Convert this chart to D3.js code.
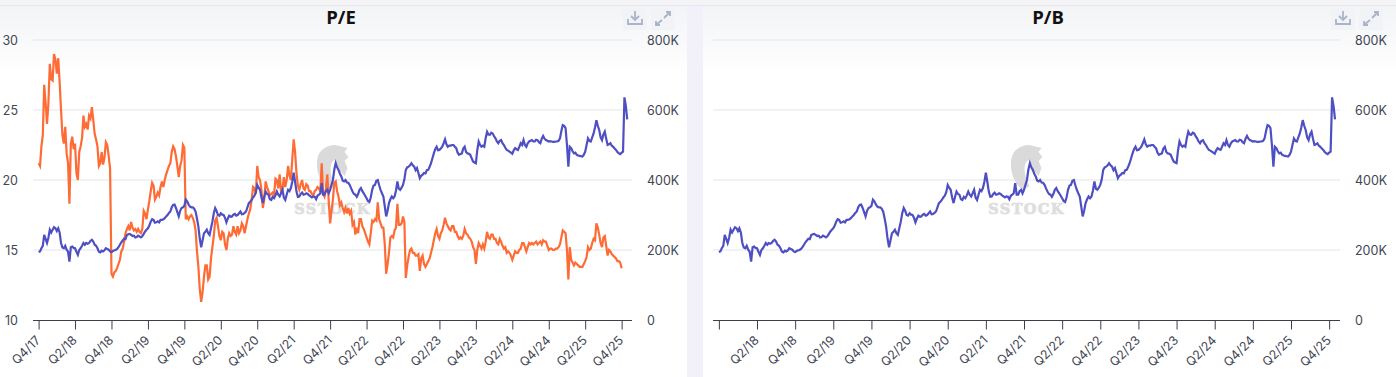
<!DOCTYPE html>
<html>
<head>
<meta charset="utf-8">
<script src="https://cdn.jsdelivr.net/npm/d3@7"></script>
<style>
  html, body { margin: 0; padding: 0; background: #fff; overflow: hidden; }
  svg { display: block; }
  text { font-family: Inter, "Noto Sans", sans-serif; }
</style>
</head>
<body>
<svg id="chart" width="1396" height="377"></svg>
<script>
// one sample about every week, tick labels every 26 samples (half a year), one row per half year
const tickLabels = ["Q4/17","Q2/18","Q4/18","Q2/19","Q4/19","Q2/20","Q4/20","Q2/21","Q4/21","Q2/22","Q4/22","Q2/23","Q4/23","Q2/24","Q4/24","Q2/25","Q4/25"];
const samplesPerTick = 26;

const peTicks = [10, 15, 20, 25, 30];
const indexTicks = [0, 200, 400, 600, 800];

const peValues = [
  21.2,21,22.4,23.2,26.8,25.5,24,25.5,28.3,27.2,27.1,29,28.6,27.6,28.7,27,25,23.2,22.6,23.8,21.9,21.2,18.3,22.6,23.1,22.2,
  22.6,20.5,20,22,22.4,23,24.6,23.8,24,23.6,24.6,24.4,25.2,24.3,23.3,22.9,22.4,21,21.2,22,21.1,21.6,22.7,22.5,21.7,20.8,
  13.3,13.1,13.4,13.5,13.7,14,14.3,14.9,15.1,15.6,16.2,16.5,16.7,16.4,17,16.6,16.4,16.5,16.3,16.5,16.3,16.2,16.5,17.8,17.6,17.2,
  17.9,18.5,19.2,19.8,19.6,18.6,18.8,19.1,18.9,19.5,19.9,19.5,20,20.4,20.7,21,21.2,22,22.4,22.2,21.7,21,20.2,21,21.4,22.5,
  22.3,17.2,17.4,17.2,17.4,17.5,17.3,17,16.4,14.9,13.8,12.2,11.3,12,13.1,13.9,13.9,12.9,13.1,14.4,15.2,16,17.1,17.3,16.7,16,
  15.7,16.3,16.2,15.4,15,15.8,16.2,16,16.1,16.7,16.3,16.1,16.7,16.2,16.4,16.9,16.7,16.2,16.7,17.2,17.6,17.9,18.6,19.5,19.4,19,
  21,20.2,20,19.3,18,18.6,19.9,19.5,19.2,18.9,19,19.1,18.9,20.1,20,19.4,20.4,19.2,19.3,20.2,19.5,20,21,20.3,20,21.5,
  22.9,22,20.5,19.6,19.3,19.7,20,19.4,19.3,19.7,19.6,19.2,19.2,19,18.9,19.2,19.3,19.5,19.4,19.2,21.2,19,18.8,19.4,20.4,18.5,
  16.9,17.8,18.6,19.8,19.9,19.2,18.8,18.2,18.4,18,17.7,18,17.6,18,17.6,17.8,16.8,17,16.1,16.6,16.2,17.2,17.2,16.7,16.5,16.2,
  15.9,15.6,15.4,16.2,17.1,17,17.2,17.1,18.4,17.2,16.9,16.6,16.6,15.4,13.3,14,14.8,15.9,16,15.9,16.4,16.6,18.3,16.8,16.8,16.9,
  17.4,17,13,13.9,14.5,15,15.1,14.8,14.8,14.6,14.6,14.7,13.5,14.4,14.6,14,13.8,14,14.2,14.4,14.8,15.2,15.7,16.2,16.5,16,
  15.8,16.2,16.4,16.8,17.3,16.9,16.7,16.5,16.4,16.7,16.7,16.3,16.3,16,15.8,15.9,15.8,16,16.5,16.2,16.1,15.9,15.8,15.6,15.2,15,
  14,15,15.5,15.3,15.1,15.4,15.1,15.6,16.3,15.9,15.8,16.1,16.1,15.8,15.8,15.5,15.4,15.8,15.6,15.3,15.1,15.2,14.8,14.9,14.8,14.6,
  14.3,14.6,14.9,14.8,14.8,15,15.1,15.5,15.5,15.2,14.9,15.2,15.5,15.4,15.5,15.4,15.5,15.6,15.4,15.5,15.6,15.4,15.7,15.6,15.6,15.3,
  15,15.1,15.1,15,15,15.1,15.1,15.2,15.4,15.9,16.4,16.3,16.2,15,12.9,15.2,14.3,14.1,13.9,14.1,14,13.9,13.8,13.8,13.8,14,
  14.2,14.5,15.2,15,15.1,15.5,15.8,15.7,16.9,16.6,16.1,15.5,15.2,15.9,16,15.3,14.6,15,14.9,14.7,14.6,14.5,14.4,14.2,14.2,14.1,
  13.7
];

const indexValues = [
  194,196,205,212,243,232,220,235,258,250,258,265,262,254,262,250,220,207,205,212,201,195,167,208,210,206,
  205,195,186,200,205,212,220,215,220,218,220,226,229,224,215,212,205,195,193,198,196,199,205,203,201,196,
  194,197,199,200,203,208,215,222,227,232,231,243,245,246,243,240,241,236,237,241,239,236,239,246,253,258,
  262,270,281,288,286,278,279,282,279,286,286,288,291,296,300,306,310,322,329,330,320,308,296,312,320,322,
  326,344,339,330,324,322,322,318,310,290,267,232,208,228,248,252,258,248,243,262,281,305,320,312,300,298,
  305,301,300,292,279,290,298,295,296,301,303,298,300,305,310,302,303,306,310,322,334,338,343,350,355,365,
  386,378,372,350,334,352,367,360,358,345,343,352,348,356,367,358,353,362,372,350,343,358,372,368,377,395,
  421,395,367,352,353,360,364,358,359,362,360,356,353,350,353,352,345,355,358,362,391,358,358,368,372,362,
  372,386,400,430,448,436,429,418,410,398,396,400,393,392,386,376,367,360,358,352,360,372,377,368,362,355,
  348,340,337,350,372,384,386,398,400,385,372,362,353,325,296,312,334,345,353,348,353,370,396,375,372,378,
  386,402,429,436,438,442,448,442,438,428,434,420,405,412,415,420,419,428,429,438,448,462,476,488,495,485,
  486,490,495,505,516,502,495,498,498,500,500,495,491,478,472,474,476,490,495,480,476,475,472,462,453,450,
  448,485,510,500,495,498,495,520,538,530,529,535,533,525,519,510,505,512,514,505,500,492,486,484,481,478,
  475,485,491,488,486,495,505,500,514,500,495,505,510,512,514,510,510,515,514,508,505,518,526,518,514,512,
  510,511,510,509,509,510,510,512,519,540,557,555,548,500,438,495,491,482,476,478,472,470,469,468,467,472,
  481,500,519,512,510,522,533,550,571,555,543,522,514,530,538,518,500,502,505,498,495,490,486,480,476,474,
  478,481,636,612,573
];

const tickIdx = tickLabels.map((d, i) => i * samplesPerTick);
const svg = d3.select("#chart");

// gradient behind the top of each panel
const defs = svg.append("defs");
const grad = defs.append("linearGradient").attr("id", "panelBg").attr("x1", 0).attr("x2", 0).attr("y1", 0).attr("y2", 1);
grad.append("stop").attr("offset", "0%").attr("stop-color", "#f3f4f6");
grad.append("stop").attr("offset", "100%").attr("stop-color", "#ffffff");

svg.append("rect").attr("width", 1396).attr("height", 5).attr("fill", "#f4f4f6");
svg.append("rect").attr("y", 5).attr("width", 1396).attr("height", 1).attr("fill", "#e6e7ef");
svg.append("rect").attr("x", 687).attr("y", 6).attr("width", 16).attr("height", 371).attr("fill", "#f1f0fb");

function drawPanel(p) {
  const g = svg.append("g");

  g.append("rect").attr("x", p.bgLeft).attr("y", 6).attr("width", p.bgWidth).attr("height", 70).attr("fill", "url(#panelBg)");

  const x = d3.scaleLinear().domain([-4, 423.4]).range([p.left, p.right]);
  const yIndex = d3.scaleLinear().domain([0, 800]).range([320, 40]);
  const yPe = d3.scaleLinear().domain([10, 30]).range([320, 40]);

  // grid
  g.append("g").selectAll("line").data(indexTicks.slice(1)).join("line")
    .attr("x1", p.left).attr("x2", p.right)
    .attr("y1", d => yIndex(d)).attr("y2", d => yIndex(d))
    .attr("stroke", "#e3e5e9").attr("stroke-width", 1);

  // watermark
  const wm = g.append("g").attr("transform", `translate(${p.mark},0)`);
  wm.append("path")
    .attr("d", "M-4,190 C-14,182 -17,168 -15,158 C-13,149 -5,145 3,145 L15,148 L12,152 L16,157 L12,161 L15,168 L12,176 L7,170 L3,160 C-2,160 -5,172 3,186 Z")
    .attr("fill", "#dadada");
  wm.append("text").attr("x", 0).attr("y", 214).attr("text-anchor", "middle")
    .attr("font-size", 14.5).attr("font-weight", 700).attr("letter-spacing", 1.4)
    .attr("stroke", "#dedede").attr("stroke-width", 0.7)
    .style("font-family", "'DejaVu Serif', serif")
    .attr("fill", "#dedede").text("SSTOCK");

  // x axis
  const xAxis = d3.axisBottom(x).tickValues(tickIdx).tickSize(9).tickPadding(3)
    .tickFormat((d, i) => (p.hideFirst && i === 0) ? "" : tickLabels[i]);
  const ax = g.append("g").attr("transform", "translate(0,320.5)").call(xAxis);
  ax.select(".domain").attr("stroke", "#3a3f4a").attr("d", `M${p.left},0H${p.right}`);
  ax.selectAll(".tick line").attr("stroke", "#3a3f4a");
  ax.selectAll(".tick text")
    .attr("fill", "#3f4654").attr("font-size", 12.5)
    .style("font-family", "Inter, sans-serif")
    .attr("text-anchor", "end")
    .attr("transform", "rotate(-45)")
    .attr("x", -13).attr("y", 16).attr("dy", 0);

  // left axis labels
  if (p.showPe) {
    g.append("g").selectAll("text").data(peTicks).join("text")
      .attr("x", 18).attr("y", d => yPe(d) + 4.5).attr("text-anchor", "end")
      .attr("font-size", 12.5).attr("fill", "#3f4654").text(d => d);
  }

  // right axis labels
  g.append("g").selectAll("text").data(indexTicks).join("text")
    .attr("x", p.right + 15).attr("y", d => yIndex(d) + 4.5)
    .attr("font-size", 12.5).attr("fill", "#3f4654")
    .text(d => d === 0 ? "0" : d + "K");

  const line = d3.line().x((d, i) => x(i));

  if (p.showPe) {
    g.append("path").datum(peValues)
      .attr("d", line.y(d => yPe(d)))
      .attr("fill", "none").attr("stroke", "#ff6b35").attr("stroke-width", 2.2);
  }
  g.append("path").datum(indexValues)
    .attr("d", line.y(d => yIndex(d)))
    .attr("fill", "none").attr("stroke", "#4f4fc4").attr("stroke-width", 2.2);

  // title
  g.append("text").attr("x", p.titleX).attr("y", 24).attr("text-anchor", "middle")
    .attr("font-size", 18.5).attr("font-weight", 700).attr("fill", "#111")
    .style("font-family", "'Open Sans', sans-serif").text(p.title);

  // toolbar icons
  const d = p.iconX;
  g.append("rect").attr("x", d - 12).attr("y", 8).attr("width", 24).attr("height", 22).attr("rx", 2).attr("fill", "#f2f3f6");
  g.append("rect").attr("x", d + 16).attr("y", 8).attr("width", 24).attr("height", 22).attr("rx", 2).attr("fill", "#f2f3f6");
  const icons = g.append("g").attr("fill", "none").attr("stroke", "#a9b4c8").attr("stroke-width", 1.8);
  icons.append("path").attr("d", `M${d},11 V20 M${d - 4},16 L${d},20 L${d + 4},16 M${d - 7},19 V24 H${d + 7} V19`);
  const e = d + 28;
  icons.append("path").attr("d", `M${e + 1},18 L${e + 7},12 M${e + 3},12 H${e + 7} V16 M${e - 1},20 L${e - 7},25 M${e - 7},21 V25 H${e - 3}`);
}

drawPanel({ title: "P/E", left: 33, right: 632, bgLeft: 0, bgWidth: 687, titleX: 341, mark: 332.5, showPe: true, hideFirst: false, iconX: 635 });
drawPanel({ title: "P/B", left: 713, right: 1340, bgLeft: 703, bgWidth: 693, titleX: 1048, mark: 1026.5, showPe: false, hideFirst: true, iconX: 1343 });
</script>
</body>
</html>
